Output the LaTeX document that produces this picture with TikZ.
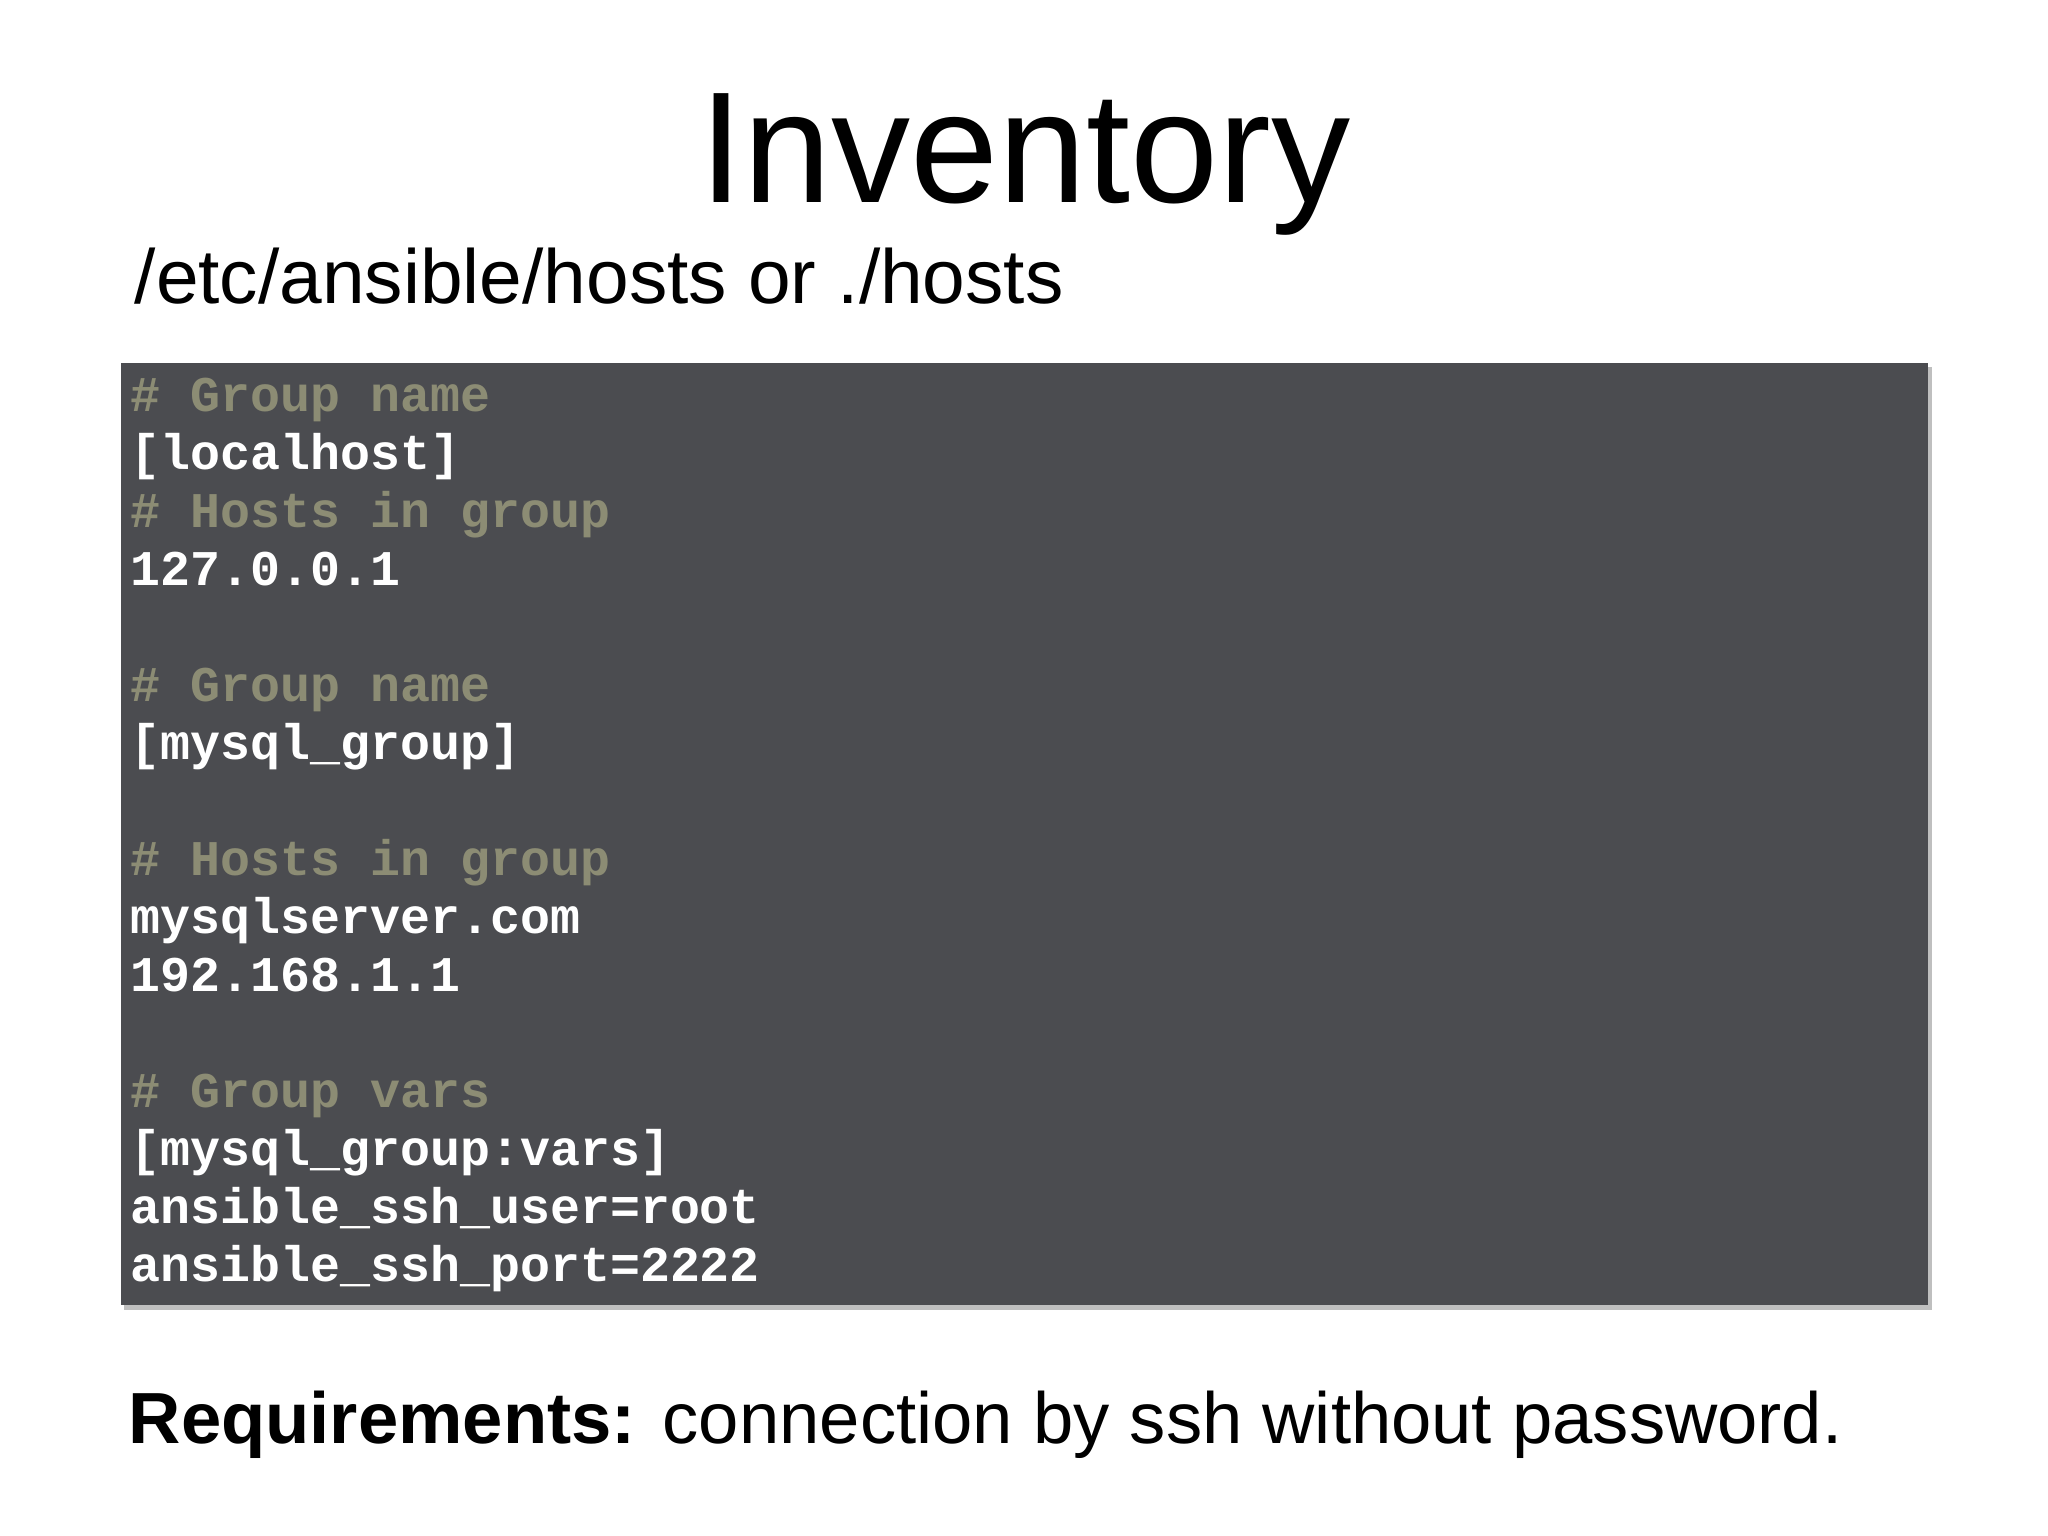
\documentclass[tikz,border=0pt]{standalone}
\usepackage{fontspec}
\setmainfont{Liberation Sans}
\setmonofont{Liberation Mono}
\begin{document}
\begin{tikzpicture}[x=0.01cm,y=-0.01cm,
  code/.style={anchor=base west,inner sep=0pt,font=\fontsize{14.2pt}{14.2pt}\ttfamily\bfseries,text=white},
  cmt/.style={code,text=cmtcol}]
\definecolor{boxcol}{HTML}{4B4C50}
\definecolor{cmtcol}{HTML}{8C8C74}
\useasboundingbox (0,0) rectangle (2048,1536);
\fill[white] (0,0) rectangle (2048,1536);
\node[anchor=base,inner sep=0pt,font=\fontsize{45pt}{45pt}\selectfont] (title) at (1025,202) {Inventory};
\node[anchor=base west,inner sep=0pt,font=\fontsize{21.8pt}{21.8pt}\selectfont] (sub) at (134,303) {/etc/ansible/hosts or ./hosts};
\fill[black!25] (124,367) rectangle (1932,1310);
\fill[boxcol] (121,363) rectangle (1928,1305);
\foreach \i/\t/\s in {0/\# Group name/cmt,1/[localhost]/code,2/\# Hosts in group/cmt,3/127.0.0.1/code,
  5/\# Group name/cmt,6/[mysql\_group]/code,8/\# Hosts in group/cmt,9/mysqlserver.com/code,10/192.168.1.1/code,
  12/\# Group vars/cmt,13/[mysql\_group:vars]/code,14/ansible\_ssh\_user=root/code,15/ansible\_ssh\_port=2222/code}
  \node[\s] (l\i) at (130,{411+58*\i}) {\t};
\node[anchor=base west,inner sep=0pt,font=\fontsize{20.6pt}{20.6pt}\selectfont] (req) at (128,1443) {\textbf{Requirements:} connection by ssh without password.};
\end{tikzpicture}
\end{document}
